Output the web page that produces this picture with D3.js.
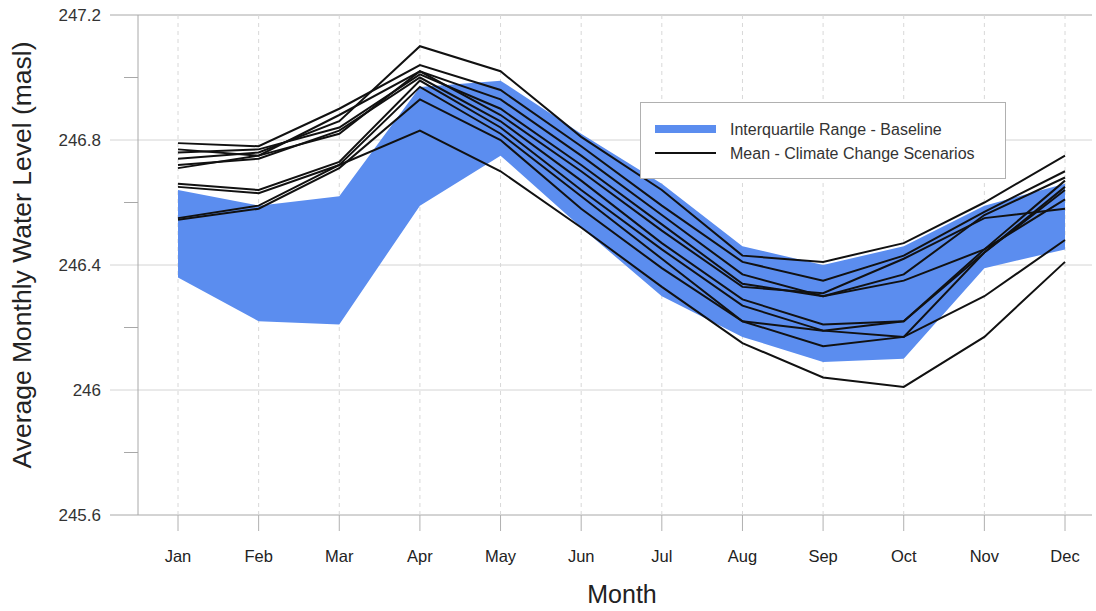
<!DOCTYPE html>
<html><head><meta charset="utf-8">
<script src="https://cdn.jsdelivr.net/npm/d3@7"></script>
<style>body{margin:0;background:#fff}svg{display:block;font-family:"Liberation Sans",Arial,sans-serif}</style>
</head><body><svg id="c" width="1096" height="611"></svg>
<script>
const months = ["Jan","Feb","Mar","Apr","May","Jun","Jul","Aug","Sep","Oct","Nov","Dec"];
const yTicks = [245.6, 246, 246.4, 246.8, 247.2];
const yMinorTicks = [245.8, 246.2, 246.6, 247.0];
const iqrUpper = [246.64, 246.59, 246.62, 246.97, 246.99, 246.82, 246.66, 246.46, 246.40, 246.46, 246.59, 246.66];
const iqrLower = [246.36, 246.22, 246.21, 246.59, 246.75, 246.52, 246.30, 246.17, 246.09, 246.10, 246.39, 246.45];
const scenA = [246.74, 246.76, 246.86, 247.10, 247.02, 246.81, 246.64, 246.43, 246.41, 246.47, 246.60, 246.75];
const scenB = [246.79, 246.78, 246.90, 247.04, 246.96, 246.78, 246.59, 246.41, 246.35, 246.43, 246.57, 246.70];
const scenC = [246.77, 246.75, 246.88, 247.02, 246.93, 246.75, 246.56, 246.37, 246.30, 246.37, 246.56, 246.68];
const scenD = [246.76, 246.77, 246.84, 247.01, 246.90, 246.72, 246.53, 246.34, 246.30, 246.35, 246.45, 246.61];
const scenE = [246.71, 246.75, 246.82, 247.02, 246.88, 246.70, 246.51, 246.33, 246.31, 246.42, 246.55, 246.58];
const scenF = [246.72, 246.74, 246.83, 247.00, 246.86, 246.67, 246.47, 246.29, 246.21, 246.22, 246.45, 246.67];
const scenG = [246.66, 246.64, 246.73, 246.99, 246.84, 246.64, 246.45, 246.27, 246.19, 246.17, 246.44, 246.65];
const scenH = [246.55, 246.59, 246.72, 246.97, 246.82, 246.62, 246.42, 246.22, 246.14, 246.17, 246.30, 246.48];
const scenI = [246.545, 246.58, 246.71, 246.93, 246.80, 246.58, 246.39, 246.22, 246.19, 246.22, 246.44, 246.64];
const scenJ = [246.65, 246.63, 246.72, 246.83, 246.70, 246.52, 246.33, 246.15, 246.04, 246.01, 246.17, 246.41];
const scenarios = [scenA, scenB, scenC, scenD, scenE, scenF, scenG, scenH, scenI, scenJ];
const legendLabels = ["Interquartile Range - Baseline", "Mean - Climate Change Scenarios"];

const svg = d3.select("#c");
const x = d3.scalePoint().domain(months).range([178, 1065]);
const y = d3.scaleLinear().domain([245.6, 247.2]).range([515, 15]);
const left = 138, right = 1092;

svg.append("g").selectAll("line").data(yTicks).join("line")
  .attr("x1", 110).attr("x2", right).attr("y1", d => y(d)).attr("y2", d => y(d))
  .attr("stroke", d => (d === 245.6 || d === 247.2) ? "#a8a8a8" : "#d4d4d4").attr("stroke-width", 1);
svg.append("g").selectAll("line").data(yMinorTicks).join("line")
  .attr("x1", 124).attr("x2", left).attr("y1", d => y(d)).attr("y2", d => y(d))
  .attr("stroke", "#a8a8a8");
svg.append("g").selectAll("line").data(months).join("line")
  .attr("x1", d => x(d)).attr("x2", d => x(d)).attr("y1", 15).attr("y2", 515)
  .attr("stroke", "#d8d8d8").attr("stroke-dasharray", "4,4");
svg.append("g").selectAll("line").data(months).join("line")
  .attr("x1", d => x(d)).attr("x2", d => x(d)).attr("y1", 515).attr("y2", 531)
  .attr("stroke", "#b0b0b0");
svg.append("line").attr("x1", left).attr("x2", left).attr("y1", 15).attr("y2", 515).attr("stroke", "#a8a8a8");

svg.append("g").selectAll("text").data(yTicks).join("text")
  .attr("x", 101).attr("y", d => y(d)).attr("dy", "0.35em").attr("text-anchor", "end")
  .attr("font-size", 17).attr("fill", "#333").text(d => d3.format("~g")(d));
svg.append("g").selectAll("text").data(months).join("text")
  .attr("x", d => x(d)).attr("y", 562).attr("text-anchor", "middle")
  .attr("font-size", 16.5).attr("fill", "#222").text(d => d);

svg.append("text").attr("x", 622).attr("y", 603).attr("text-anchor", "middle")
  .attr("font-size", 25).attr("fill", "#222").text("Month");
svg.append("text").attr("transform", "translate(31,255) rotate(-90)").attr("text-anchor", "middle")
  .attr("font-size", 26.5).attr("fill", "#222").text("Average Monthly Water Level (masl)");

const area = d3.area().x((d, i) => x(months[i])).y0((d, i) => y(iqrLower[i])).y1(d => y(d));
svg.append("path").datum(iqrUpper).attr("d", area).attr("fill", "#5b8def");

const line = d3.line().x((d, i) => x(months[i])).y(d => y(d));
svg.append("g").selectAll("path").data(scenarios).join("path")
  .attr("d", line).attr("fill", "none").attr("stroke", "#111").attr("stroke-width", 2);

const lg = svg.append("g");
lg.append("rect").attr("x", 640.5).attr("y", 102.5).attr("width", 365).attr("height", 76)
  .attr("fill", "#fff").attr("stroke", "#b0b0b0");
lg.append("line").attr("x1", 655).attr("x2", 716).attr("y1", 129).attr("y2", 129)
  .attr("stroke", "#5b8def").attr("stroke-width", 8);
lg.append("line").attr("x1", 655).attr("x2", 716).attr("y1", 153).attr("y2", 153)
  .attr("stroke", "#111").attr("stroke-width", 2);
lg.selectAll("text").data(legendLabels).join("text")
  .attr("x", 730).attr("y", (d, i) => 129 + i * 24).attr("dy", "0.35em")
  .attr("font-size", 16).attr("fill", "#333").text(d => d);
</script></body></html>
